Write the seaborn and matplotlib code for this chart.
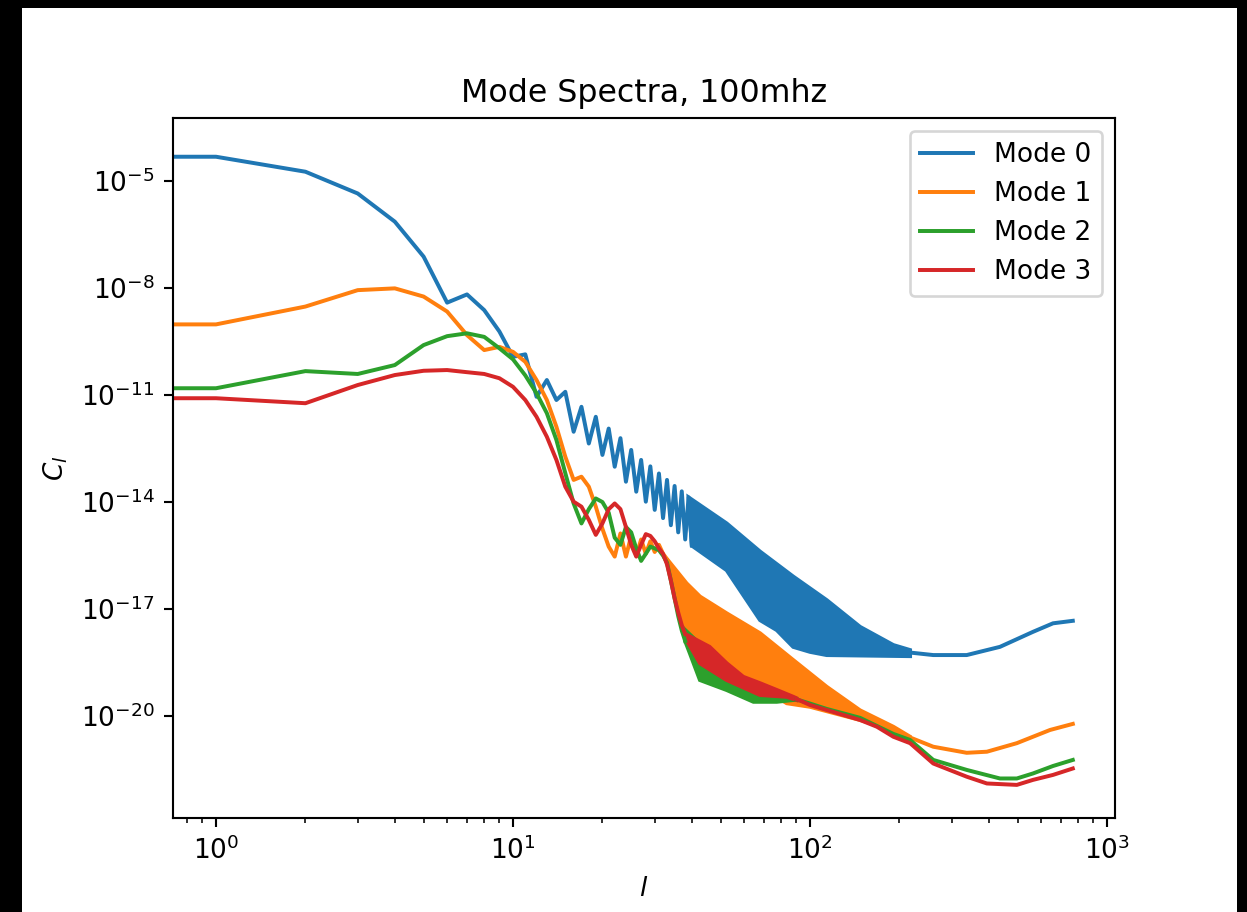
import numpy as np
import matplotlib
matplotlib.use("Agg")
import matplotlib.pyplot as plt
from matplotlib.patches import Rectangle
from matplotlib.ticker import NullLocator
import seaborn as sns

# ---------------- data (log10 C_l) ----------------
labels = ["Mode 0", "Mode 1", "Mode 2", "Mode 3"]
colors = ["#1f77b4", "#ff7f0e", "#2ca02c", "#d62728"]

# explicit integer multipoles at low l
mode0_l = list(range(0, 41))
mode0_logc = [-4.32, -4.32, -4.74, -5.35, -6.14, -7.12, -8.41, -8.18, -8.62, -9.22,
              -9.93, -9.86, -11.05, -10.58, -11.14, -10.91, -12.03, -11.33, -12.36, -11.61,
              -12.68, -11.94, -13.01, -12.21, -13.43, -12.54, -13.71, -12.82, -13.99, -13.00,
              -14.22, -13.20, -14.45, -13.38, -14.65, -13.55, -14.85, -13.70, -15.05, -13.87,
              -15.22]
mode1_l = list(range(0, 35))
mode1_logc = [-9.02, -9.02, -8.52, -8.06, -8.01, -8.24, -8.66, -9.32, -9.74, -9.65,
              -9.79, -10.07, -10.58, -11.14, -11.89, -12.73, -13.38, -13.29, -13.57, -14.13,
              -14.75, -15.25, -15.53, -14.88, -15.53, -14.95, -15.50, -15.05, -15.45, -15.10,
              -15.40, -15.20, -15.45, -15.60, -15.95]
mode2_l = list(range(0, 39))
mode2_logc = [-10.81, -10.81, -10.33, -10.41, -10.16, -9.60, -9.35, -9.27, -9.37, -9.69,
              -10.00, -10.45, -10.95, -11.51, -12.26, -13.19, -14.04, -14.60, -14.20, -13.90,
              -14.00, -14.30, -15.00, -15.20, -14.70, -14.85, -15.30, -15.65, -15.45, -15.25,
              -15.30, -15.35, -15.50, -15.70, -16.20, -16.70, -17.20, -17.60, -17.90]
mode3_l = list(range(0, 39))
mode3_logc = [-11.09, -11.09, -11.23, -10.72, -10.44, -10.32, -10.30, -10.36, -10.41, -10.53,
              -10.77, -11.14, -11.61, -12.17, -12.82, -13.57, -13.99, -14.13, -14.50, -14.92,
              -14.60, -14.20, -14.04, -14.20, -14.70, -15.20, -15.53, -15.20, -14.90, -14.95,
              -15.10, -15.30, -15.45, -15.75, -16.20, -16.70, -17.10, -17.45, -17.70]

# envelopes of the densely oscillating range (upper and lower edges)
mode0_up_l = [39, 52.4, 67.9, 87.8, 113.8, 147.4, 190.8, 217.2]
mode0_up = [-13.87, -14.60, -15.39, -16.09, -16.75, -17.50, -18.01, -18.15]
mode0_lo_l = [40, 52.4, 67.9, 77.3, 87.8, 100, 113.8, 217.2]
mode0_lo = [-15.22, -15.91, -17.31, -17.59, -18.06, -18.20, -18.29, -18.32]

mode1_up_l = [33, 38.4, 42.6, 52.4, 67.9, 87.8, 113.8, 147.4, 190.8, 217.2]
mode1_up = [-15.60, -16.28, -16.65, -17.12, -17.68, -18.43, -19.18, -19.84, -20.30, -20.58]
mode1_lo_l = [34, 36.5, 42.6, 52.4, 67.9, 83.5, 100, 147.4, 190.8, 217.2]
mode1_lo = [-15.95, -17.31, -18.06, -18.62, -19.18, -19.64, -19.74, -20.11, -20.40, -20.62]

mode2_up_l = [38, 45.9, 52.4, 67.9, 87.8, 90]
mode2_up = [-17.59, -18.24, -18.81, -19.36, -19.50, -19.52]
mode2_lo_l = [38, 39.4, 42.6, 52.4, 64.5, 77.3, 87.8, 90]
mode2_lo = [-17.90, -18.24, -18.99, -19.27, -19.60, -19.60, -19.55, -19.55]

mode3_up_l = [38, 45.9, 52.4, 59.6, 67.9, 77.3, 87.8, 90]
mode3_up = [-17.70, -18.06, -18.52, -18.90, -19.08, -19.27, -19.46, -19.50]
mode3_lo_l = [38, 42.6, 52.4, 67.9, 83.5, 90]
mode3_lo = [-17.80, -18.52, -18.99, -19.41, -19.46, -19.55]

# smooth high-l tails
mode0_tail_l = [217.2, 260, 337, 436, 563, 658, 767]
mode0_tail = [-18.22, -18.29, -18.29, -18.06, -17.64, -17.40, -17.33]
mode1_tail_l = [217.2, 260, 337, 394, 497, 643, 767]
mode1_tail = [-20.60, -20.86, -21.03, -21.00, -20.76, -20.39, -20.22]
mode2_tail_l = [90, 100, 113.8, 147.4, 190.8, 217.2, 260, 337, 436, 497, 563, 658, 767]
mode2_tail = [-19.53, -19.65, -19.80, -20.05, -20.50, -20.67, -21.23, -21.51, -21.75,
              -21.75, -21.61, -21.40, -21.23]
mode3_tail_l = [90, 100, 113.8, 147.4, 168, 190.8, 217.2, 260, 337, 394, 497, 563, 658, 767]
mode3_tail = [-19.52, -19.69, -19.83, -20.11, -20.30, -20.58, -20.76, -21.33, -21.70,
              -21.89, -21.93, -21.79, -21.65, -21.47]

modes = [
    (mode0_l, mode0_logc, mode0_up_l, mode0_up, mode0_lo_l, mode0_lo, mode0_tail_l, mode0_tail),
    (mode1_l, mode1_logc, mode1_up_l, mode1_up, mode1_lo_l, mode1_lo, mode1_tail_l, mode1_tail),
    (mode2_l, mode2_logc, mode2_up_l, mode2_up, mode2_lo_l, mode2_lo, mode2_tail_l, mode2_tail),
    (mode3_l, mode3_logc, mode3_up_l, mode3_up, mode3_lo_l, mode3_lo, mode3_tail_l, mode3_tail),
]

# ---------------- figure ----------------
DPI = 190
fig = plt.figure(figsize=(1247 / DPI, 912 / DPI), dpi=DPI, facecolor="black")
fig.patches.append(Rectangle((22 / 1247, 0), 1215 / 1247, 904 / 912,
                             transform=fig.transFigure, facecolor="white",
                             edgecolor="none", zorder=-10))
ax = fig.add_axes([173 / 1247, (912 - 818) / 912, 942 / 1247, 700 / 912])

for (ll, lc, ul, uv, lol, lov, tl, tv), lab, c in zip(modes, labels, colors):
    sns.lineplot(x=np.array(ll, float), y=10.0 ** np.array(lc), color=c,
                 linewidth=1.5, label=lab, ax=ax)
    px = np.r_[np.array(ul, float), np.array(lol, float)[::-1]]
    py = 10.0 ** np.r_[np.array(uv), np.array(lov)[::-1]]
    ax.fill(px, py, facecolor=c, edgecolor=c, linewidth=1.5)
    sns.lineplot(x=np.array(tl, float), y=10.0 ** np.array(tv), color=c,
                 linewidth=1.5, legend=False, ax=ax)

ax.set_xscale("log")
ax.set_yscale("log")
ax.set_xlim(10 ** -0.1448, 10 ** 3.0269)
ax.set_ylim(10 ** -22.858, 10 ** -3.234)
ax.yaxis.set_minor_locator(NullLocator())
ax.set_title("Mode Spectra, 100mhz")
ax.set_xlabel("$l$")
ax.set_ylabel("$C_l$")
ax.legend(loc="upper right")

fig.savefig("out.png", dpi=DPI, facecolor=fig.get_facecolor())
